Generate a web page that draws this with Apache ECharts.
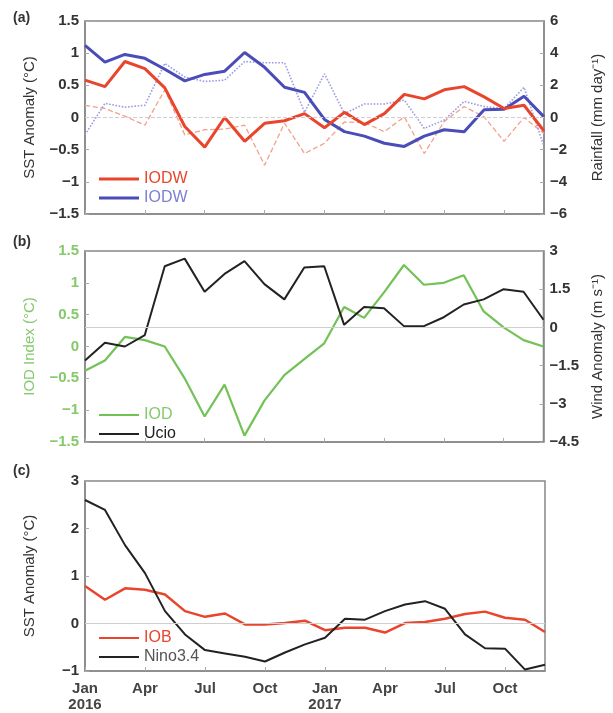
<!DOCTYPE html>
<html>
<head>
<meta charset="utf-8">
<script src="https://cdn.jsdelivr.net/npm/echarts@6/dist/echarts.min.js"></script>
<style>
html,body{margin:0;padding:0;background:#fff;}
#chart{width:613px;height:713px;}
</style>
</head>
<body>
<div id="chart"></div>
<script>
// ---- data ----
const months = ['2016-01','2016-02','2016-03','2016-04','2016-05','2016-06','2016-07','2016-08','2016-09','2016-10','2016-11','2016-12',
                '2017-01','2017-02','2017-03','2017-04','2017-05','2017-06','2017-07','2017-08','2017-09','2017-10','2017-11','2017-12'];
const xTickLabels = {0:'Jan\n2016',3:'Apr',6:'Jul',9:'Oct',12:'Jan\n2017',15:'Apr',18:'Jul',21:'Oct'};

// panel (a)
const iodwSST      = [0.58,0.48,0.87,0.76,0.46,-0.14,-0.46,0.0,-0.37,-0.09,-0.05,0.06,-0.16,0.08,-0.11,0.06,0.36,0.29,0.43,0.48,0.32,0.14,0.19,-0.21];
const iodwSSTthin  = [0.19,0.14,0.02,-0.12,0.43,-0.27,-0.19,-0.18,-0.12,-0.74,-0.09,-0.56,-0.40,-0.07,-0.08,-0.22,0.01,-0.56,-0.06,0.17,0.01,-0.37,0.0,-0.25];
const iodwRain     = [4.48,3.44,3.92,3.68,3.0,2.28,2.68,2.88,4.04,3.12,1.88,1.56,-0.12,-0.88,-1.16,-1.6,-1.8,-1.16,-0.76,-0.88,0.48,0.52,1.32,0.04];
const iodwRainThin = [-1.08,0.88,0.64,0.76,3.36,2.52,2.24,2.32,3.48,3.4,3.4,0.32,2.72,0.24,0.84,0.84,1.08,-0.68,-0.16,1.0,0.68,0.56,1.88,-1.8];

// panel (b)
const iodIndex = [-0.38,-0.22,0.15,0.1,0.0,-0.5,-1.1,-0.6,-1.4,-0.85,-0.45,-0.2,0.05,0.62,0.45,0.85,1.28,0.97,1.0,1.12,0.55,0.3,0.1,0.0];
const ucio     = [-1.3,-0.6,-0.75,-0.3,2.4,2.7,1.4,2.1,2.6,1.7,1.1,2.35,2.4,0.1,0.8,0.75,0.05,0.05,0.4,0.9,1.1,1.5,1.4,0.3];

// panel (c)
const iob    = [0.79,0.50,0.74,0.71,0.61,0.26,0.14,0.21,-0.02,-0.02,0.01,0.06,-0.14,-0.09,-0.09,-0.19,0.01,0.03,0.10,0.20,0.25,0.12,0.08,-0.18];
const nino34 = [2.60,2.39,1.65,1.06,0.26,-0.23,-0.56,-0.63,-0.70,-0.80,-0.61,-0.44,-0.30,0.10,0.08,0.26,0.40,0.47,0.31,-0.23,-0.52,-0.53,-0.97,-0.87];

// ---- styling ----
const FONT = 'Liberation Sans, Arial, sans-serif';
const RED = '#e8452c', RED_L = '#f3a08c', BLUE = '#4a4cb8', BLUE_L = '#9a9de2', BLUE_T = '#7c80d2', GREEN = '#72c256', GREEN_T = '#86c96c', BLACK = '#222';
const fmt = v => String(v).replace('-', '\u2212');

function xAxis(gi, showLabels){
  return {
    type:'category', gridIndex:gi, data:months, boundaryGap:false,
    axisLine:{show:true, onZero:false, lineStyle:{color:'#888', width:1.5}},
    axisTick:{show:true, inside:true, interval:2, length:4, lineStyle:{color:'#aaa'}},
    axisLabel:{show:showLabels, interval:2, color:'#444', fontFamily:FONT, fontSize:15, fontWeight:'bold', lineHeight:16, margin:10,
      formatter:(v,i)=> xTickLabels[i] || ''},
    splitLine:{show:false}
  };
}
function yAxis(gi, pos, min, max, interval, name, color, nameColor, nameGap){
  return {
    type:'value', gridIndex:gi, position:pos, min, max, interval,
    name, nameLocation:'middle', nameGap, nameRotate:90,
    nameTextStyle:{color:nameColor, fontFamily:FONT, fontSize:15},
    axisLine:{show:true, onZero:false, lineStyle:{color:'#888', width:1.5}},
    axisTick:{show:true, inside:true, length:4, lineStyle:{color:'#aaa'}},
    axisLabel:{color:color, fontFamily:FONT, fontSize:15, fontWeight:'bold', margin:6, formatter:fmt},
    splitLine:{show:false}
  };
}
function line(name, data, xi, yi, color, width, type, z){
  return {name, type:'line', xAxisIndex:xi, yAxisIndex:yi, data, symbol:'none',
    lineStyle:{color, width, type:type||'solid'}, itemStyle:{color}, z:z||2};
}
function zeroLine(xi, yi, type){
  return {type:'line', xAxisIndex:xi, yAxisIndex:yi, data:[], silent:true,
    markLine:{silent:true, symbol:'none', label:{show:false}, lineStyle:{color:'#cfcfcf', width:1, type:type}, data:[{yAxis:0}]}};
}

const option = {
  animation:false,
  backgroundColor:'#fff',
  textStyle:{fontFamily:FONT},
  grid:[
    {left:85, right:68, top:21, height:193, show:true, borderColor:'#888', borderWidth:1.5},
    {left:85, right:68, top:251, height:191, show:true, borderColor:'#888', borderWidth:1.5},
    {left:85, right:68, top:481, height:192, show:true, borderColor:'#888', borderWidth:1.5}
  ],
  xAxis:[xAxis(0,false), xAxis(1,false), xAxis(2,true)],
  yAxis:[
    yAxis(0,'left',-1.5,1.5,0.5,'SST Anomaly (°C)','#333','#333',48),
    yAxis(0,'right',-6,6,2,'Rainfall (mm day\u207B\u00B9)','#333','#333',46),
    yAxis(1,'left',-1.5,1.5,0.5,'IOD Index (°C)',GREEN_T,GREEN_T,48),
    yAxis(1,'right',-4.5,3,1.5,'Wind Anomaly (m s\u207B\u00B9)','#333','#333',44),
    yAxis(2,'left',-1,3,1,'SST Anomaly (°C)','#333','#333',48)
  ],
  legend:[
    {orient:'vertical', left:94, top:166, itemWidth:40, itemHeight:3, itemGap:3, icon:'rect',
      data:[{name:'IODW', textStyle:{color:RED}}, {name:'IODW ', textStyle:{color:BLUE_T}}],
      formatter:n=>n.trim(), textStyle:{fontFamily:FONT, fontSize:16}},
    {orient:'vertical', left:94, top:402, itemWidth:40, itemHeight:2, itemGap:3, icon:'rect',
      data:[{name:'IOD', textStyle:{color:GREEN_T}}, {name:'Ucio', textStyle:{color:BLACK}}],
      textStyle:{fontFamily:FONT, fontSize:16}},
    {orient:'vertical', left:94, top:625, itemWidth:40, itemHeight:2, itemGap:3, icon:'rect',
      data:[{name:'IOB', textStyle:{color:RED}}, {name:'Nino3.4', textStyle:{color:'#555'}}],
      textStyle:{fontFamily:FONT, fontSize:16}}
  ],
  title:[
    {text:'(a)', left:8, top:6, textStyle:{fontFamily:FONT, fontSize:14, fontWeight:'bold', color:'#333'}},
    {text:'(b)', left:8, top:230, textStyle:{fontFamily:FONT, fontSize:14, fontWeight:'bold', color:'#333'}},
    {text:'(c)', left:8, top:459, textStyle:{fontFamily:FONT, fontSize:14, fontWeight:'bold', color:'#333'}}
  ],
  series:[
    zeroLine(0,0,'dashed'),
    line('IODW thin', iodwSSTthin, 0,0, RED_L, 1.3, 'dashed', 2),
    line('IODW  thin', iodwRainThin, 0,1, BLUE_L, 1.6, 'dotted', 2),
    line('IODW', iodwSST, 0,0, RED, 3, 'solid', 4),
    line('IODW ', iodwRain, 0,1, BLUE, 3, 'solid', 3),
    zeroLine(1,3,'solid'),
    line('IOD', iodIndex, 1,2, GREEN, 2.2, 'solid', 3),
    line('Ucio', ucio, 1,3, BLACK, 2, 'solid', 4),
    zeroLine(2,4,'solid'),
    line('IOB', iob, 2,4, RED, 2.5, 'solid', 3),
    line('Nino3.4', nino34, 2,4, BLACK, 2, 'solid', 4)
  ]
};
const chart = echarts.init(document.getElementById('chart'), null, {renderer:'canvas'});
chart.setOption(option);
</script>
</body>
</html>
